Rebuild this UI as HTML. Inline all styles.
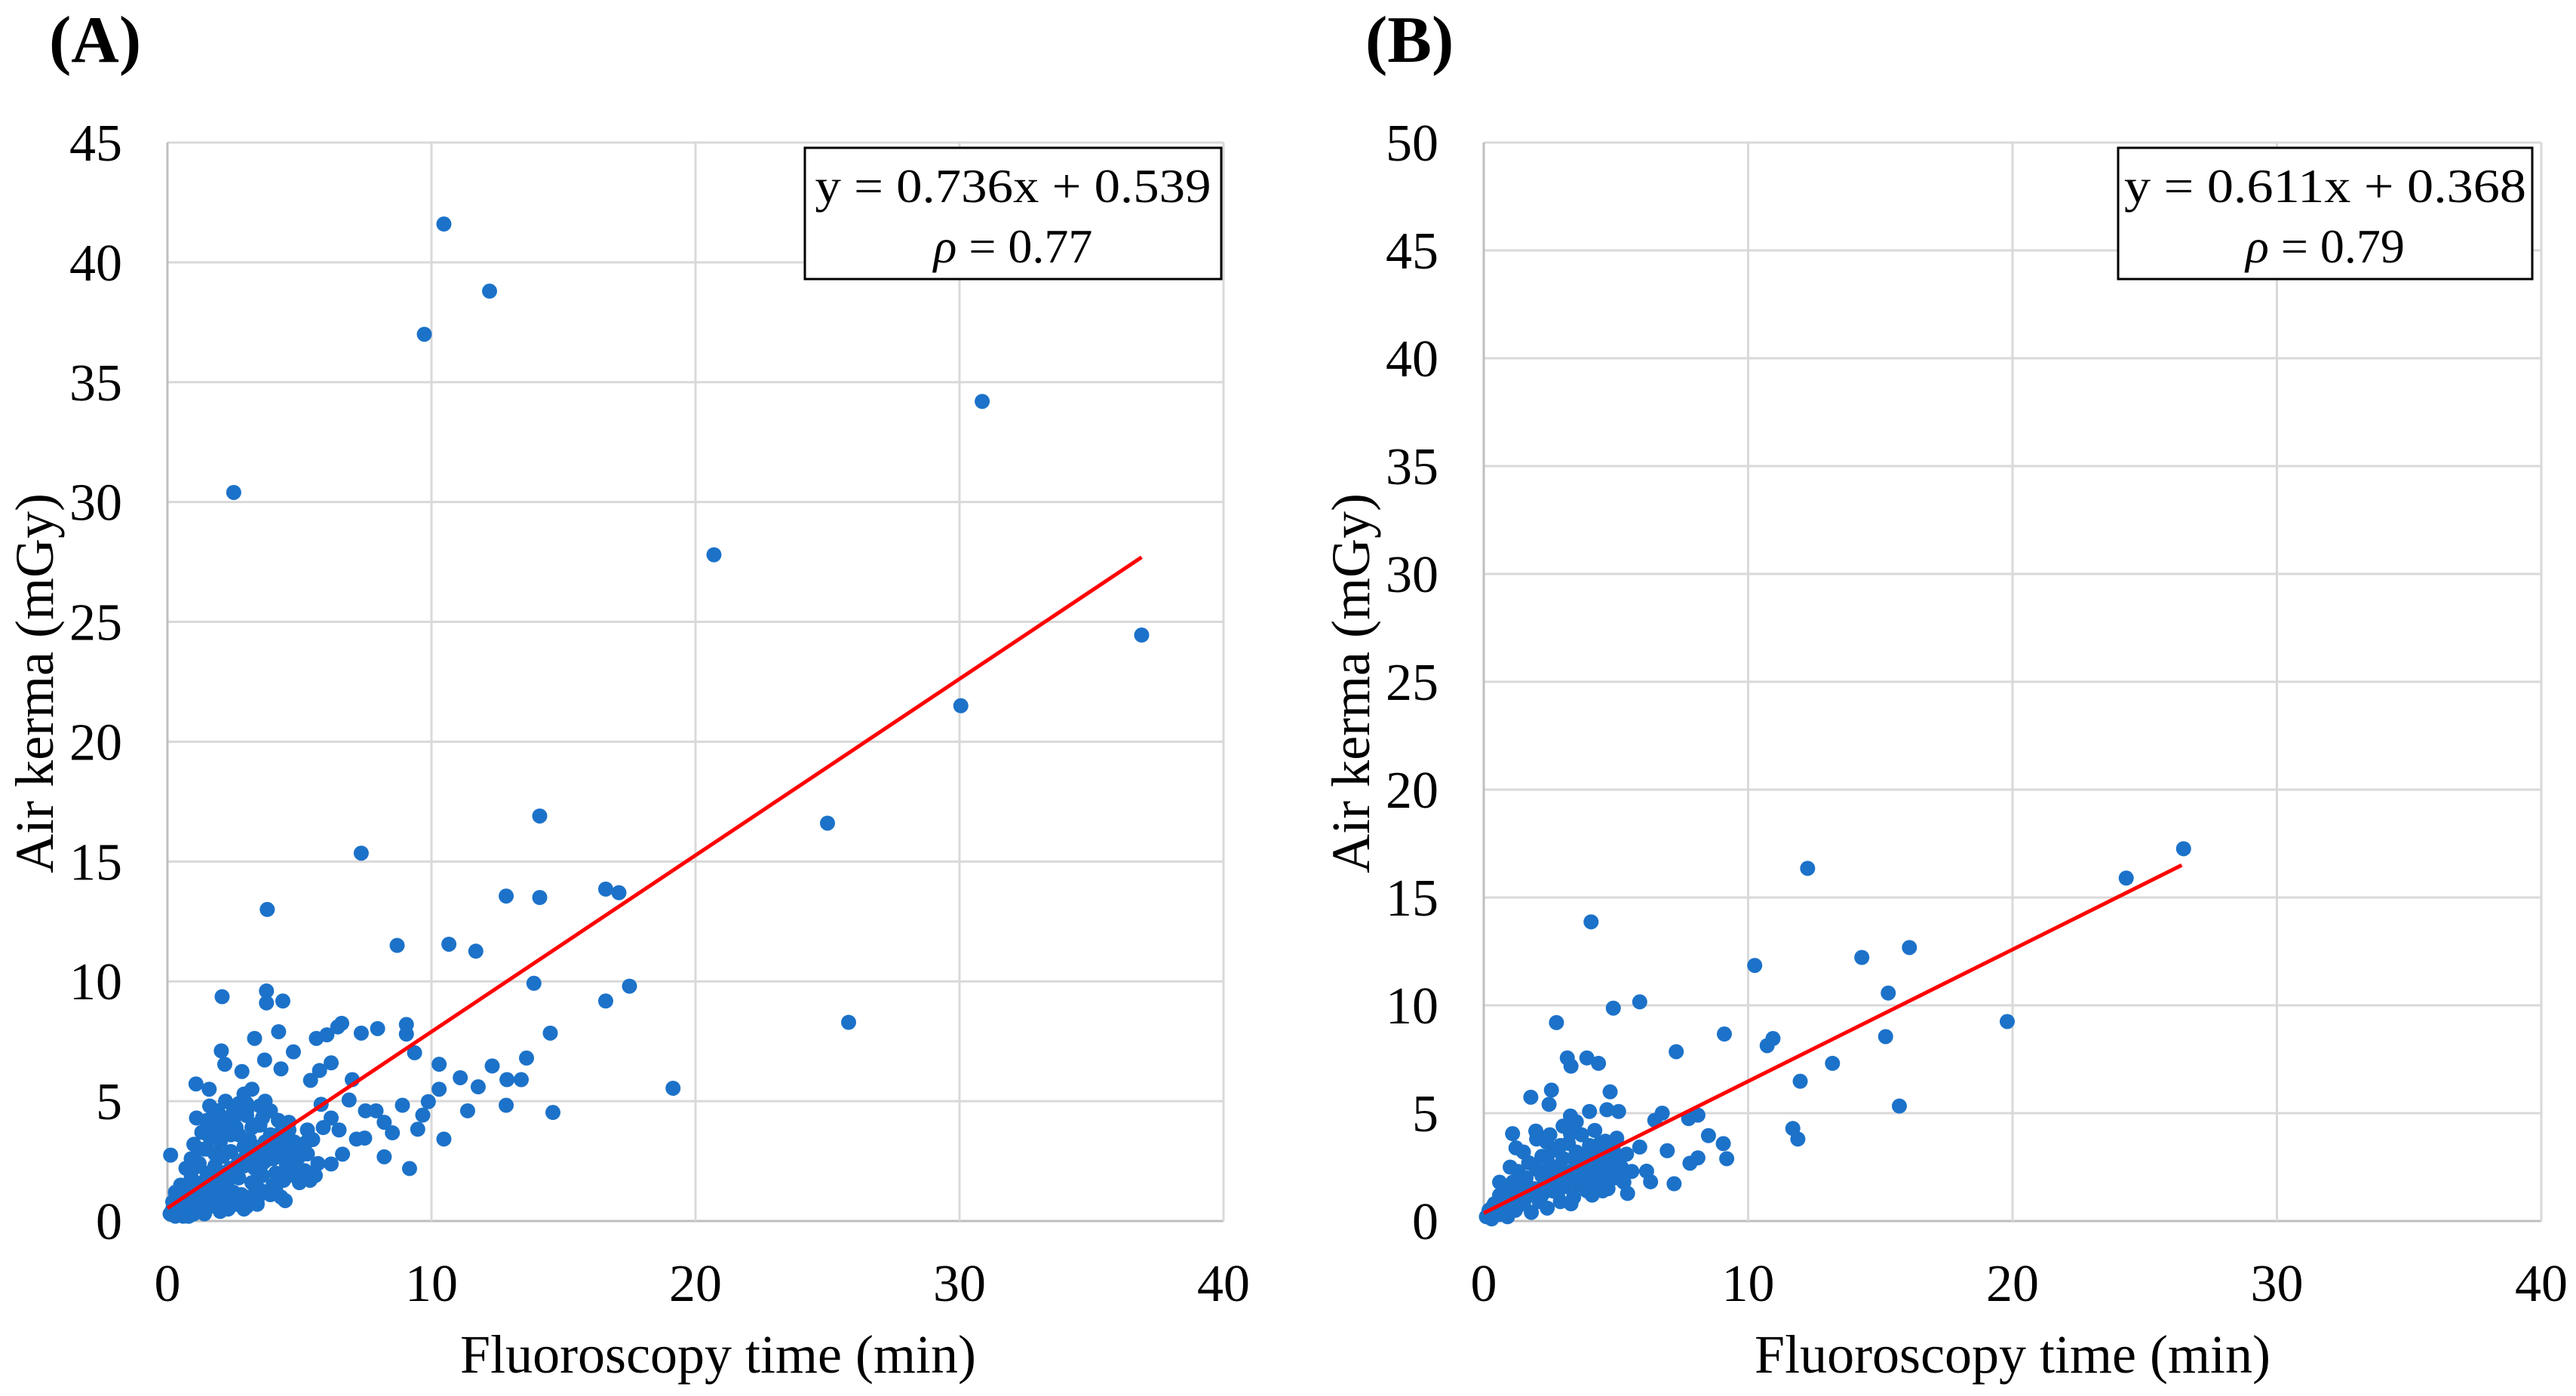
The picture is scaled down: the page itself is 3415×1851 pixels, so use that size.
<!DOCTYPE html>
<html>
<head>
<meta charset="utf-8">
<style>
html,body{margin:0;padding:0;background:#fff;}
svg{display:block;}
svg text{font-family:"Liberation Serif","DejaVu Serif","Times New Roman",serif !important;fill:#000;}
</style>
</head>
<body>
<svg id="fig" width="3415" height="1851" viewBox="0 0 3415 1851" xmlns="http://www.w3.org/2000/svg"></svg>
<script>
// ---------- Panel A data ----------
const aXTicks = [0, 10, 20, 30, 40];
const aYTicks = [0, 5, 10, 15, 20, 25, 30, 35, 40, 45];
const aTime = [10.47,12.2,9.73,30.86,2.51,20.7,36.9,30.05,25.0,14.1,7.34,3.78,12.83,14.1,16.6,17.1,8.7,10.66,11.68,13.88,16.6,17.5,25.8,19.15,14.6,14.5,13.6,12.3,11.77,11.09,12.86,13.4,12.83,11.37,10.47,10.29,10.29,9.88,9.67,9.48,9.36,9.05,9.05,8.9,9.17,8.21,8.52,8.21,7.9,7.96,7.34,7.47,7.16,6.88,7.0,6.6,6.45,6.04,5.64,6.2,5.76,5.42,4.77,4.37,4.21,3.75,3.75,4.3,3.68,3.3,2.07,2.04,2.17,2.82,1.08,1.58,0.12,4.46,6.63,6.2,5.82,5.24,4.6,
0.1,0.2,0.3,0.4,0.5,0.3,0.5,0.2,0.6,0.7,0.8,0.9,0.7,1.0,0.9,1.0,0.8,1.0,1.1,1.2,1.3,1.2,1.4,1.3,1.5,1.1,1.4,1.5,1.3,1.6,1.7,1.8,1.6,1.9,1.7,2.0,1.9,1.8,2.0,1.6,2.1,2.2,2.3,2.1,2.4,2.2,2.5,2.3,2.5,2.4,2.2,2.6,2.7,2.8,2.9,2.6,3.0,2.8,3.0,2.7,2.9,3.1,3.2,3.3,3.4,3.1,3.3,3.5,3.5,3.2,3.4,3.6,3.7,3.8,3.9,3.6,4.0,3.8,4.0,3.7,3.9,4.1,4.2,4.3,4.4,4.5,4.2,4.4,4.1,4.6,4.7,4.8,4.9,5.0,4.6,5.0,5.2,5.3,5.4,5.5,5.7,5.6,5.3,5.9,6.2,6.5,7.5,
0.6,0.9,1.2,1.5,1.8,2.1,2.4,2.7,3.0,3.3,3.6,3.9,4.2,4.5,4.8,5.1,0.8,1.1,1.4,1.7,2.0,2.3,2.6,2.9,3.2,3.5,3.8,4.1,4.4,4.7,5.0,0.5,1.0,1.5,2.0,2.5,3.0,3.5,4.0,4.5,1.2,1.7,2.2,2.7,3.2,3.7,1.5,2.0,2.5,3.0,1.8,2.3,2.8,3.4,4.9,5.4,4.3,3.9,2.9,1.4];
const aKerma = [41.6,38.8,37.0,34.2,30.4,27.8,24.45,21.5,16.6,16.9,15.35,13.0,13.56,13.5,13.85,13.7,11.5,11.55,11.26,9.92,9.18,9.8,8.29,5.54,4.53,7.84,6.8,6.47,5.6,5.98,5.9,5.9,4.83,4.6,3.42,5.5,6.54,4.98,4.42,3.83,7.02,8.2,7.8,4.83,2.19,2.68,3.68,4.12,4.6,8.03,7.84,3.46,3.42,5.05,5.9,8.25,8.1,7.77,7.62,6.6,6.28,5.87,7.06,9.18,7.9,9.6,9.1,6.35,6.72,7.62,9.36,7.1,6.54,6.24,5.72,5.5,2.75,0.85,2.79,2.38,4.87,3.27,4.12,
0.3,0.5,0.2,0.9,0.4,1.2,1.5,0.8,0.2,0.6,1.1,1.8,2.2,0.3,2.6,1.4,0.2,3.2,0.5,1.0,1.6,2.4,3.0,3.7,4.2,4.3,0.3,2.0,0.8,0.6,1.2,2.8,3.5,4.6,4.0,0.4,1.8,2.3,3.3,4.8,0.9,1.5,2.1,2.7,3.6,4.2,4.7,0.5,1.2,2.9,5.0,0.7,1.8,2.4,3.1,3.9,4.4,1.1,0.6,4.9,5.3,1.0,1.6,2.2,2.8,3.4,4.0,4.8,1.3,5.5,0.9,1.9,2.5,3.0,3.6,4.3,1.5,1.2,2.6,5.0,4.6,2.0,3.1,3.7,1.7,2.4,4.2,2.9,1.3,1.9,2.7,3.3,2.2,1.6,3.8,3.0,2.1,2.8,1.7,3.4,2.4,1.9,3.8,3.9,4.3,3.8,4.6,
0.4,0.7,1.0,1.3,1.6,1.9,2.2,2.5,2.8,3.1,2.4,2.7,3.0,3.3,2.6,2.9,0.2,0.5,0.8,1.1,1.4,1.7,2.0,2.3,2.6,2.9,3.2,3.5,3.8,3.1,2.7,1.3,2.2,3.0,3.8,4.2,4.6,4.0,3.4,2.2,3.0,3.5,4.0,3.6,3.9,3.3,4.1,4.4,4.5,4.9,0.9,0.6,0.8,0.7,2.3,2.0,1.0,1.1,0.5,0.4];
const aSlope = 0.736, aIntercept = 0.539, aFitEnd = 36.9;

// ---------- Panel B data ----------
const bXTicks = [0, 10, 20, 30, 40];
const bYTicks = [0, 5, 10, 15, 20, 25, 30, 35, 40, 45, 50];
const bTime = [26.47,24.3,12.25,4.06,16.1,14.3,10.25,15.3,19.8,5.9,4.9,2.75,9.1,10.94,10.72,15.2,7.28,13.19,3.16,3.3,3.9,4.34,11.97,4.78,1.78,2.56,2.47,15.72,11.69,11.88,6.75,6.47,7.75,8.1,8.5,9.06,9.19,8.1,7.8,7.2,6.94,6.31,5.44,6.16,5.9,5.1,4.66,4.0,3.28,1.09,1.97,1.22,2.37,3.28,5.03,4.75,5.22,
0.1,0.2,0.3,0.4,0.5,0.6,0.7,0.8,0.9,1.0,1.1,1.2,1.3,1.4,1.5,1.6,1.7,1.8,1.9,2.0,2.1,2.2,2.3,2.4,2.5,2.6,2.7,2.8,2.9,3.0,3.1,3.2,3.3,3.4,3.5,3.6,3.7,3.8,3.9,4.0,4.1,4.2,4.3,4.4,4.5,4.6,4.7,4.8,4.9,5.0,5.1,5.3,5.4,5.6,1.0,1.5,0.6,2.0,2.5,3.0,3.5,1.2,2.2,2.8,3.3,3.8,4.3,0.3,0.8,1.6,2.6,3.6,4.5,5.2,
0.4,0.7,1.0,1.3,1.6,1.9,2.2,2.5,2.8,3.1,3.4,3.7,4.0,4.3,4.6,4.9,0.6,0.9,1.2,1.5,1.8,2.1,2.4,2.7,3.0,3.3,3.6,3.9,4.2,4.5,4.8,5.1,1.4,1.9,2.4,2.9,3.4,3.9,4.4,2.1,2.6,3.1,3.6,4.1];
const bKerma = [17.26,15.9,16.35,13.87,12.68,12.22,11.85,10.57,9.25,10.16,9.87,9.2,8.67,8.46,8.13,8.55,7.85,7.31,7.56,7.18,7.56,7.31,6.48,5.99,5.74,6.07,5.41,5.33,4.29,3.8,5.0,4.67,4.75,4.91,3.96,3.59,2.89,2.93,2.68,1.73,3.26,1.82,1.28,2.31,3.43,5.08,5.16,5.08,4.87,4.05,4.17,3.39,3.67,4.05,3.84,3.1,2.19,
0.2,0.5,0.1,0.8,0.3,1.2,0.6,1.5,0.2,1.0,1.8,0.5,2.3,1.3,0.8,2.0,2.7,0.4,1.5,2.4,1.0,3.0,1.8,0.6,2.6,1.4,3.3,2.0,0.9,2.9,1.6,3.6,2.3,1.1,3.2,2.0,4.0,2.7,1.4,3.5,2.3,4.2,1.7,3.0,2.0,3.7,1.5,2.6,3.3,2.0,2.8,1.8,3.1,2.3,2.5,3.2,1.8,3.8,4.0,4.4,4.6,1.4,1.2,1.3,0.8,1.9,2.6,0.6,0.8,1.1,2.2,2.9,1.4,2.5,
0.6,0.9,1.3,1.0,1.7,1.4,2.1,1.8,2.5,2.2,2.9,2.6,3.2,2.9,3.5,3.1,0.3,0.6,0.9,1.2,1.5,1.2,1.9,1.6,2.3,2.0,2.7,2.4,3.1,2.7,2.4,2.5,2.0,2.6,3.0,3.5,1.8,2.5,3.6,0.9,1.5,2.1,1.7,1.2];
const bSlope = 0.611, bIntercept = 0.368, bFitEnd = 26.4;

const NS = "http://www.w3.org/2000/svg";
const svg = document.getElementById("fig");
const FONT = '"Liberation Serif", "DejaVu Serif", serif';
function mk(tag, attrs, parent, txt) {
  const e = document.createElementNS(NS, tag);
  for (const k in attrs) e.setAttribute(k, attrs[k]);
  if (tag === "text") e.setAttribute("font-family", FONT);
  if (txt !== undefined) e.textContent = txt;
  (parent || svg).appendChild(e);
  return e;
}

function panel(o) {
  const g = mk("g", {});
  
  
  const xMax = o.xTicks[o.xTicks.length - 1], yMax = o.yTicks[o.yTicks.length - 1];
  const sx = v => o.L + (o.R - o.L) * v / xMax;
  const sy = v => o.B - (o.B - o.T) * v / yMax;

  o.yTicks.forEach(t => {
    const l = mk("line", {x1: o.L, x2: o.R, y1: sy(t), y2: sy(t), stroke: t === 0 ? "#bfbfbf" : "#d9d9d9", "stroke-width": 3}, g);
    
    
    const tx = mk("text", {x: o.L - 60, y: sy(t) + 24, "text-anchor": "end", "font-size": 70}, g, String(t));
    
    
  });
  o.xTicks.forEach(t => {
    const l = mk("line", {x1: sx(t), x2: sx(t), y1: o.T, y2: o.B, stroke: t === 0 ? "#bfbfbf" : "#d9d9d9", "stroke-width": 3}, g);
    
    
    const tx = mk("text", {x: sx(t), y: 1725, "text-anchor": "middle", "font-size": 70}, g, String(t));
    
    
  });

  for (let i = 0; i < o.xs.length; i++) {
    const c = mk("circle", {cx: sx(o.xs[i]), cy: sy(o.ys[i]), r: 10, fill: "#1c72c9"}, g);
    
    
  }
  const fl = mk("line", {x1: sx(0), y1: sy(o.b), x2: sx(o.end), y2: sy(o.m * o.end + o.b), stroke: "#ff0000", "stroke-width": 5}, g);
  
  

  const bx = mk("rect", {x: o.boxL, y: 196, width: o.boxR - o.boxL, height: 174, fill: "#fff", stroke: "#000", "stroke-width": 3}, g);
  
  
  const cx = (o.boxL + o.boxR) / 2;
  const e1 = mk("text", {x: cx, y: 268, "text-anchor": "middle", "font-size": 64, textLength: o.eqW, lengthAdjust: "spacingAndGlyphs"}, g, o.eq);
  
  
  const e2 = mk("text", {x: cx, y: 348, "text-anchor": "middle", "font-size": 64}, g);
  
  
  mk("tspan", {"font-style": "italic"}, e2, "ρ");
  mk("tspan", {}, e2, " = " + o.rho);

  const xt = mk("text", {x: o.xTitleX, y: 1820, "text-anchor": "middle", "font-size": 72}, g, "Fluoroscopy time (min)");
  
  
  const yt = mk("text", {x: 0, y: 0, "text-anchor": "middle", "font-size": 72, transform: `translate(${o.yTitleX},906) rotate(-90)`}, g, "Air kerma (mGy)");
  
  
  const pt = mk("text", {x: o.labelX, y: 82, "font-size": 88, "font-weight": "bold"}, g, o.label);
  
  
}

panel({id: "panel-a", L: 222, R: 1622, T: 189, B: 1619, xTicks: aXTicks, yTicks: aYTicks, xs: aTime, ys: aKerma,
  m: aSlope, b: aIntercept, end: aFitEnd, boxL: 1067, boxR: 1619, eq: "y = 0.736x + 0.539", eqW: 525, rho: "0.77",
  yTitleX: 70, xTitleX: 952, labelX: 65, label: "(A)"});
panel({id: "panel-b", L: 1967, R: 3369, T: 189, B: 1619, xTicks: bXTicks, yTicks: bYTicks, xs: bTime, ys: bKerma,
  m: bSlope, b: bIntercept, end: bFitEnd, boxL: 2808, boxR: 3357, eq: "y = 0.611x + 0.368", eqW: 533, rho: "0.79",
  yTitleX: 1815, xTitleX: 2668, labelX: 1810, label: "(B)"});
</script>
</body>
</html>
